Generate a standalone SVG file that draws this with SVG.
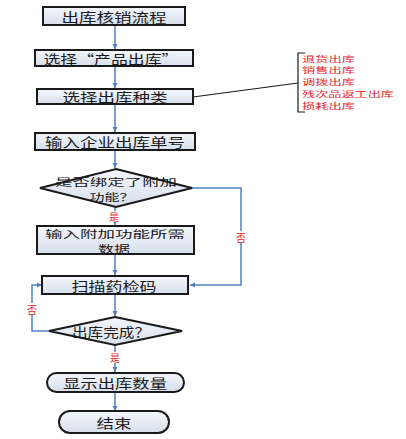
<svg xmlns="http://www.w3.org/2000/svg" width="406" height="439" viewBox="0 0 406 439">
<defs>
<linearGradient id="g" x1="0" y1="0" x2="0" y2="1">
<stop offset="0" stop-color="#f4f7fb"/>
<stop offset="1" stop-color="#d6dfec"/>
</linearGradient>
<marker id="a" markerWidth="6" markerHeight="6" refX="5" refY="3" orient="auto" markerUnits="userSpaceOnUse">
<path d="M0,0.5 L5,3 L0,5.5 z" fill="#4f81bd"/>
</marker>
</defs>
<style>
.n{fill:url(#g);stroke:#1a1a1a;stroke-width:2}
.t{font-family:"Noto Sans CJK SC","Noto Sans CJK JP",sans-serif;font-size:13px;fill:#1a1a1a;text-anchor:middle;dominant-baseline:central}
.t2{font-size:10px}
.c{fill:none;stroke:#4f81bd;stroke-width:1.5}
.r{font-family:"Noto Sans CJK SC",sans-serif;font-size:8px;fill:#e8262a;dominant-baseline:central}
.rl{font-family:"Noto Sans CJK SC",sans-serif;font-size:10px;fill:#e8262a;text-anchor:middle;dominant-baseline:central}
</style>
<rect width="406" height="439" fill="#fff"/>
<g id="connectors">
<line class="c" x1="115" y1="25" x2="115" y2="49" marker-end="url(#a)"/>
<line class="c" x1="115" y1="66" x2="115" y2="88" marker-end="url(#a)"/>
<line class="c" x1="115" y1="104" x2="115" y2="132" marker-end="url(#a)"/>
<line class="c" x1="115" y1="150" x2="115" y2="168" marker-end="url(#a)"/>
<line class="c" x1="115" y1="207" x2="115" y2="225" marker-end="url(#a)"/>
<line class="c" x1="115" y1="254" x2="115" y2="275" marker-end="url(#a)"/>
<line class="c" x1="115" y1="294" x2="115" y2="316" marker-end="url(#a)"/>
<line class="c" x1="115" y1="345" x2="115" y2="372" marker-end="url(#a)"/>
<line class="c" x1="115" y1="392" x2="115" y2="411" marker-end="url(#a)"/>
<polyline class="c" points="192,188 241,188 241,285 190,285" marker-end="url(#a)"/>
<polyline class="c" points="49,331 32,331 32,285 42,285" marker-end="url(#a)"/>
<line x1="193" y1="97" x2="298" y2="83" stroke="#1a1a1a" stroke-width="1.2"/>
<polyline points="305,53 298,53 298,112 305,112" fill="none" stroke="#1a1a1a" stroke-width="1.2"/>
</g>
<g id="n1"><rect class="n" x="43" y="7" width="142" height="18"/><text class="t" x="114" y="16" textLength="105" lengthAdjust="spacingAndGlyphs">出库核销流程</text></g>
<g id="n2"><rect class="n" x="35" y="50" width="158" height="16"/><text class="t" x="111" y="58" textLength="135" lengthAdjust="spacingAndGlyphs">选择“产品出库”</text></g>
<g id="n3"><rect class="n" x="37" y="89" width="156" height="15"/><text class="t" x="115" y="96.5" textLength="105" lengthAdjust="spacingAndGlyphs">选择出库种类</text></g>
<g id="n4"><rect class="n" x="35" y="133" width="160" height="17"/><text class="t" x="115" y="141.5" textLength="140" lengthAdjust="spacingAndGlyphs">输入企业出库单号</text></g>
<g id="d1"><polygon class="n" points="116,169 192,188 116,207 40,188"/><text class="t t2" x="116" y="181" textLength="122" lengthAdjust="spacingAndGlyphs">是否绑定了附加</text><text class="t t2" x="112" y="196" textLength="45" lengthAdjust="spacingAndGlyphs">功能？</text></g>
<g id="n5"><rect class="n" x="37" y="226" width="157" height="28"/><text class="t t2" x="115" y="233" textLength="140" lengthAdjust="spacingAndGlyphs">输入附加功能所需</text><text class="t t2" x="114" y="248" textLength="32" lengthAdjust="spacingAndGlyphs">数据</text></g>
<g id="n6"><rect class="n" x="42" y="276" width="146" height="18"/><text class="t" x="114" y="285" textLength="85" lengthAdjust="spacingAndGlyphs">扫描药检码</text></g>
<g id="d2"><polygon class="n" points="115,317 182,331 115,345 49,331"/><text class="t" x="111" y="331" textLength="78" lengthAdjust="spacingAndGlyphs">出库完成？</text></g>
<g id="n7"><rect class="n" x="47" y="373" width="137" height="19" rx="9.5"/><text class="t" x="115" y="382.5" textLength="104" lengthAdjust="spacingAndGlyphs">显示出库数量</text></g>
<g id="n8"><rect class="n" x="59" y="411" width="110" height="22" rx="11"/><text class="t" x="114" y="422" textLength="35" lengthAdjust="spacingAndGlyphs">结束</text></g>
<g id="labels">
<rect x="108" y="211" width="12" height="11" fill="#fff"/><text class="rl" x="114" y="216.5">是</text>
<rect x="235" y="231" width="12" height="12" fill="#fff"/><text class="rl" x="241" y="237">否</text>
<rect x="26" y="303" width="12" height="12" fill="#fff"/><text class="rl" x="32" y="309">否</text>
<rect x="109" y="352" width="12" height="11" fill="#fff"/><text class="rl" x="115" y="357.5">是</text>
</g>
<g id="note">
<text class="r" x="302" y="58" textLength="53" lengthAdjust="spacingAndGlyphs">退货出库</text>
<text class="r" x="302" y="69.75" textLength="53" lengthAdjust="spacingAndGlyphs">销售出库</text>
<text class="r" x="302" y="81.5" textLength="53" lengthAdjust="spacingAndGlyphs">调拨出库</text>
<text class="r" x="302" y="93.25" textLength="92" lengthAdjust="spacingAndGlyphs">残次品返工出库</text>
<text class="r" x="302" y="105" textLength="53" lengthAdjust="spacingAndGlyphs">损耗出库</text>
</g>
</svg>
